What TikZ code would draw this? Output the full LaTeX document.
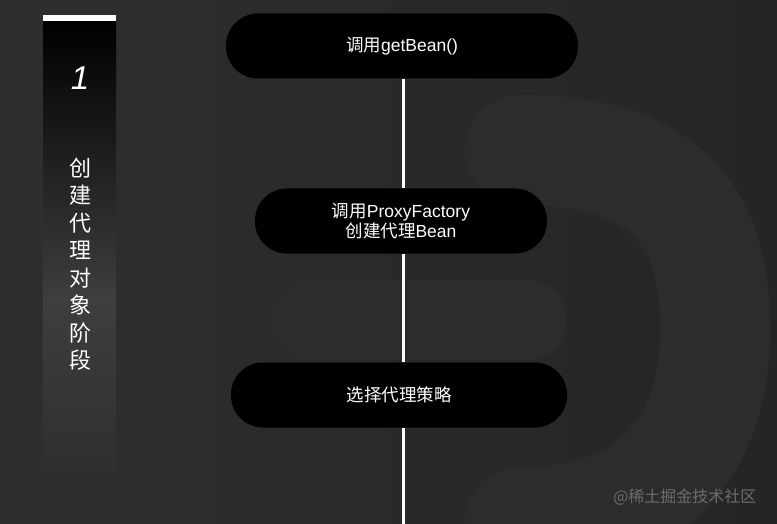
\documentclass[tikz,border=0pt]{standalone}
\usepackage{fontspec}
\setmainfont{Liberation Sans}
\newfontfamily\cjk{Noto Sans CJK SC}
\begin{document}
\begin{tikzpicture}[x=1pt,y=-1pt,
  stepbox/.style={fill=black,rounded corners=32pt,minimum height=65pt,text=white,font=\fontsize{17.5}{20.5}\selectfont,align=center,inner sep=0pt},
  link/.style={draw=white,line width=3pt},
]
\definecolor{bgl}{HTML}{2E2E2E}
\definecolor{bgr}{HTML}{252525}
\definecolor{band}{HTML}{2C2C2C}
\useasboundingbox (0,0) rectangle (777,524);
% background
\shade[left color=bgl,right color=bgr] (0,0) rectangle (777,524);
% faint D shape
\draw[draw=band,line width=110pt,line cap=round] (520,150) .. controls (680,150) and (715,230) .. (715,330) .. controls (715,450) and (650,522) .. (520,522);
\draw[draw=band,line width=80pt,line cap=round] (312,320) -- (527,320);
% left bar
\shade[top color=black,bottom color={rgb,255:red,62;green,62;blue,62}] (43,21) rectangle (116,300);
\shade[top color={rgb,255:red,62;green,62;blue,62},bottom color={rgb,255:red,44;green,44;blue,44}] (43,300) rectangle (116,500);
\fill[white] (43,15) rectangle (116,21);
\node[text=white,font=\fontsize{33}{33}\selectfont\itshape] (num) at (80,78) {1};
\node[text=white,font=\cjk\fontsize{22}{27.5}\selectfont,align=center] (stage) at (80,264) {创\\建\\代\\理\\对\\象\\阶\\段};
% boxes
\node[stepbox,minimum width=352pt] (b1) at (402,46) {{\cjk 调用}getBean()};
\node[stepbox,minimum width=292pt] (b2) at (401,221) {{\cjk 调用}ProxyFactory\\{\cjk 创建代理}Bean};
\node[stepbox,minimum width=336pt] (b3) at (399,395) {\cjk 选择代理策略};
\coordinate (end) at (403,524);
\draw[link] (b1.south -| end) -- (b2.north -| end);
\draw[link] (b2.south -| end) -- (b3.north -| end);
\draw[link] (b3.south -| end) -- (end);
% watermark
\node[text={rgb,255:red,108;green,108;blue,108},font=\cjk\fontsize{16}{18}\selectfont,anchor=east] (wm) at (760,497) {@稀土掘金技术社区};
\end{tikzpicture}
\end{document}
